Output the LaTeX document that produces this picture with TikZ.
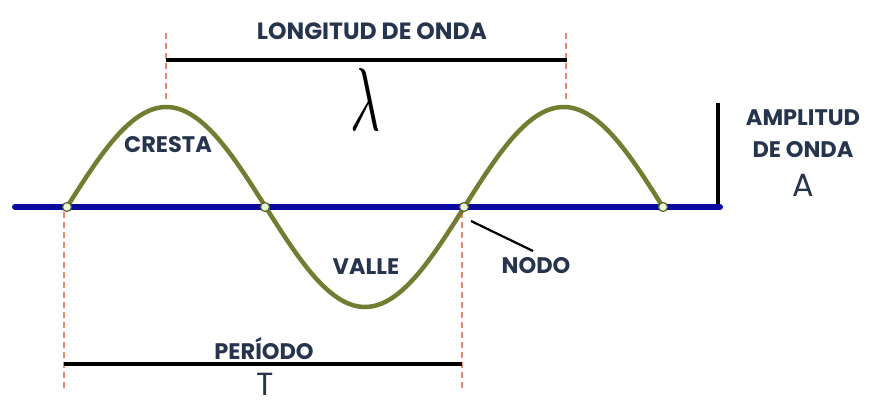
\documentclass[tikz,border=0pt]{standalone}
\usepackage{fontspec}
\setmainfont{Poppins}
\definecolor{axisblue}{RGB}{10,10,160}
\definecolor{wavegreen}{RGB}{115,125,50}
\definecolor{txt}{RGB}{38,52,78}
\definecolor{dashred}{RGB}{232,135,105}
\definecolor{nodefill}{RGB}{232,244,215}
\begin{document}
\begin{tikzpicture}[x=1pt,y=-1pt,
  lbl/.style={text=txt,font=\fontsize{22.5}{26}\selectfont\bfseries,inner sep=0pt,align=center},
  guide/.style={dashred,line width=1.6pt,dash pattern=on 6pt off 4pt},
  dim/.style={black,line width=3.5pt},
  wnode/.style={circle,draw=wavegreen!80!black,fill=nodefill,line width=1.2pt,minimum size=9pt,inner sep=0pt}]
\useasboundingbox[fill=white] (0,0) rectangle (872,401);
% guides
\coordinate (g1t) at (166,33); \coordinate (g1b) at (166,100);
\coordinate (g2t) at (566,33); \coordinate (g2b) at (566,100);
\coordinate (g3t) at (64,212); \coordinate (g3b) at (64,388);
\coordinate (g4t) at (462,212); \coordinate (g4b) at (462,390);
\draw[guide] (g1t) -- (g1b);
\draw[guide] (g2t) -- (g2b);
\draw[guide] (g3t) -- (g3b);
\draw[guide] (g4t) -- (g4b);
% dimension lines
\coordinate (la) at (166,60); \coordinate (lb) at (567,60);
\draw[dim] (la) -- (lb);
\coordinate (pa) at (64,364); \coordinate (pb) at (462,364);
\draw[dim] (pa) -- (pb);
\coordinate (aa) at (718,103); \coordinate (ab) at (718,209);
\draw[dim] (aa) -- (ab);
% axis
\coordinate (ax1) at (15,207); \coordinate (ax2) at (720,207);
\draw[axisblue,line width=6pt,line cap=round] (ax1) -- (ax2);
% wave
\draw[wavegreen,line width=4.5pt] plot[smooth,samples=120,domain=67:663] (\x,{207-100*sin((\x-67)/397.33*360)});
% nodes
\node[wnode] (n1) at (67,207) {};
\node[wnode] (n2) at (265,207) {};
\node[wnode] (n3) at (464,207) {};
\node[wnode] (n4) at (663,207) {};
% labels
\node[lbl] (longitud) at (372,31) {\fontsize{23.5}{26}\selectfont LONGITUD DE ONDA};
\node[inner sep=0pt] (lambda) at (365,99) {\resizebox{30pt}{62pt}{$\lambda$}};
\node[lbl] (cresta) at (168,145) {CRESTA};
\node[lbl] (valle) at (366,267) {VALLE};
\node[lbl] (nodo) at (536,266) {NODO};
\node[lbl] (periodo) at (264,349) {PERÍODO};
\node[text=txt,inner sep=0pt,anchor=center] (tlab) at (265,384) {\fontsize{32}{34}\selectfont T};
\node[lbl] (ampl) at (803,118) {AMPLITUD};
\node[lbl] (deonda) at (803,150) {DE ONDA};
\node[text=txt,inner sep=0pt] (alab) at (803,185) {\fontsize{32}{34}\selectfont A};
% pointer
\coordinate (pt1) at (471,221); \coordinate (pt2) at (533,251);
\draw[black,line width=2.2pt] (pt1) -- (pt2);
\end{tikzpicture}
\end{document}
